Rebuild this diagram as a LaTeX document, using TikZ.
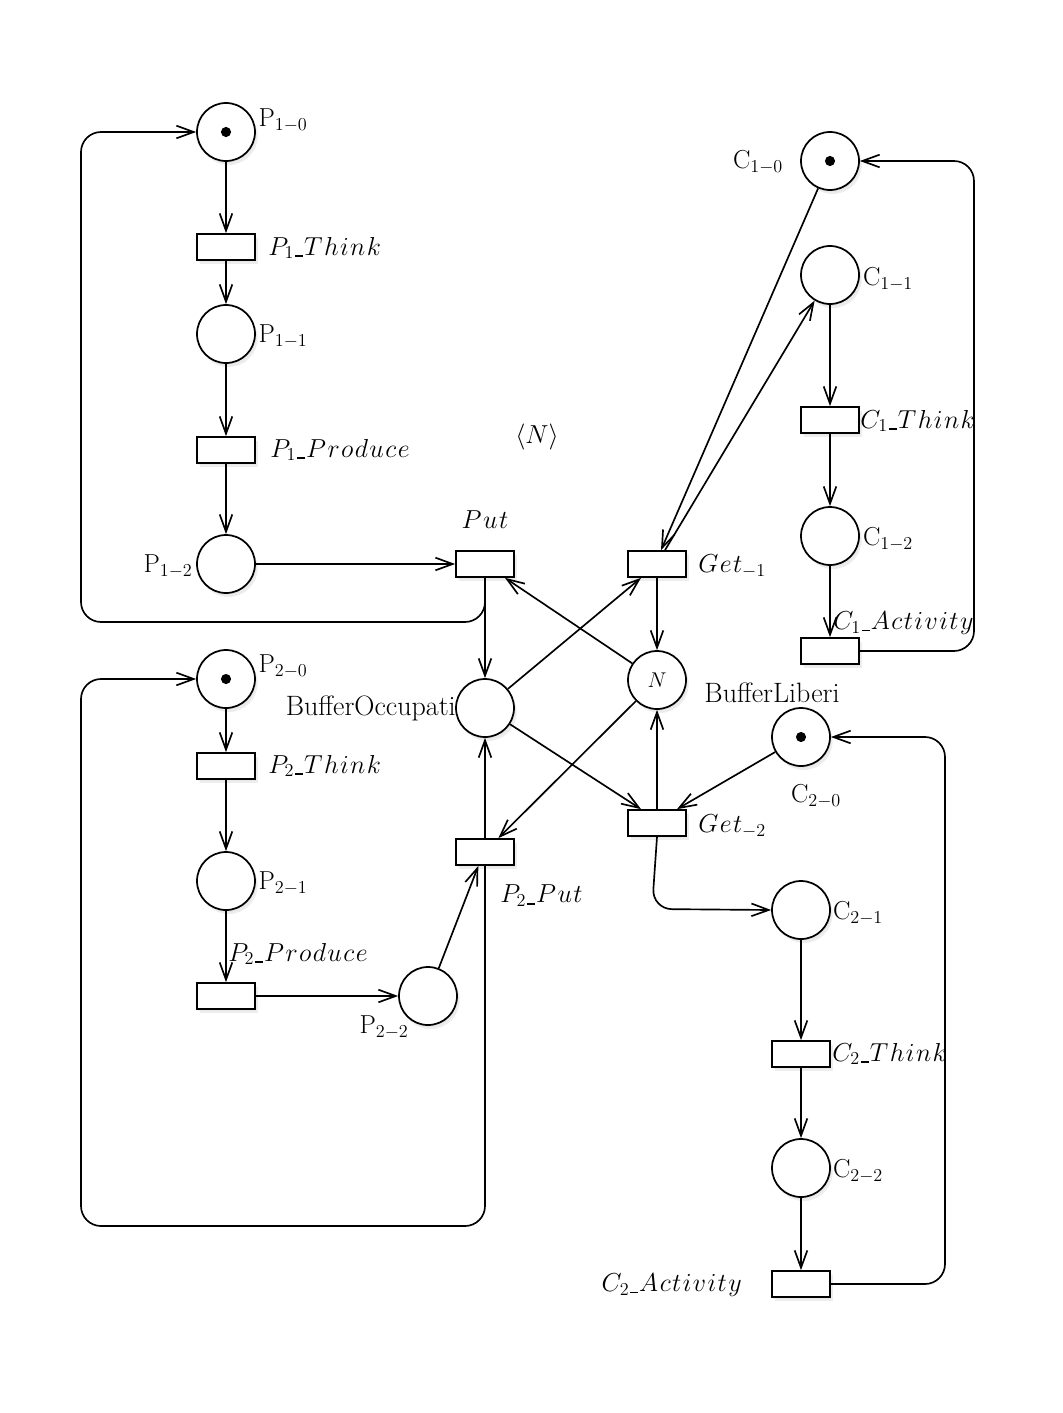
\RequirePackage{fix-cm}
\documentclass[tikz,border=0pt]{standalone}
\usetikzlibrary{arrows.meta,shadows}
\newcommand\uscore{\mbox{\kern.03em\vrule width .32em height -0.01em depth .065em\kern.03em}}
\begin{document}
\begin{tikzpicture}[x=0.75pt,y=-0.75pt,
  every node/.style={font=\fontsize{19.5}{23}\selectfont},
  shd/.style={drop shadow={shadow xshift=2pt,shadow yshift=-3pt,fill=black!14},
              drop shadow={shadow xshift=1pt,shadow yshift=-1.5pt,fill=black!10}},
  place/.style={circle,draw,fill=white,line width=1.3pt,minimum size=43.5pt,inner sep=0pt,shd},
  trans/.style={rectangle,draw,fill=white,line width=1.3pt,minimum width=43.5pt,minimum height=19.5pt,inner sep=0pt,shd},
  arc/.style={line width=1.25pt,-{Straight Barb[length=13pt,width=9.5pt,line width=1.25pt]}},
  lbl/.style={inner sep=0pt},
  biglbl/.style={inner sep=0pt,font=\fontsize{21}{25}\selectfont},
  loop/.style={arc,rounded corners=15pt}]
\useasboundingbox (0,0) rectangle (1063,1413);
% places
\node[place] (P10) at (226,132) {};
\node[place] (P11) at (226,334) {};
\node[place] (P12) at (226,564) {};
\node[place] (P20) at (226,679) {};
\node[place] (P21) at (226,881) {};
\node[place] (P22) at (428,996) {};
\node[place] (BO) at (485,708) {};
\node[place] (BL) at (657,680) {\fontsize{16}{18}\selectfont$N$};
\node[place] (C10) at (830,161) {};
\node[place] (C11) at (830,275) {};
\node[place] (C12) at (830,536) {};
\node[place] (C20) at (801,737) {};
\node[place] (C21) at (801,910) {};
\node[place] (C22) at (801,1168) {};
% tokens
\foreach \p in {P10,P20,C10,C20} \fill (\p.center) circle[radius=3.8pt];
% transitions
\node[trans] (P1T) at (226,247) {};
\node[trans] (P1P) at (226,450) {};
\node[trans] (Put) at (485,564) {};
\node[trans] (Get1) at (657,564) {};
\node[trans] (P2T) at (226,766) {};
\node[trans] (P2P) at (226,996) {};
\node[trans] (P2Put) at (485,852) {};
\node[trans] (Get2) at (657,823) {};
\node[trans] (C1T) at (830,420) {};
\node[trans] (C1A) at (830,651) {};
\node[trans] (C2T) at (801,1054) {};
\node[trans] (C2A) at (801,1284) {};
% labels
\node[lbl] (lP10) at (283,120) {P$_{1-0}$};
\node[lbl] (lP11) at (283,336) {P$_{1-1}$};
\node[lbl] (lP12) at (168,566) {P$_{1-2}$};
\node[lbl] (lP20) at (283,666) {P$_{2-0}$};
\node[lbl] (lP21) at (283,883) {P$_{2-1}$};
\node[lbl] (lP22) at (384,1027) {P$_{2-2}$};
\node[lbl] (lC10) at (758,162) {C$_{1-0}$};
\node[lbl] (lC11) at (888,279) {C$_{1-1}$};
\node[lbl] (lC12) at (888,539) {C$_{1-2}$};
\node[lbl] (lC20) at (816,796) {C$_{2-0}$};
\node[lbl] (lC21) at (858,913) {C$_{2-1}$};
\node[lbl] (lC22) at (858,1171) {C$_{2-2}$};
\node[biglbl,anchor=east] (lBO) at (456,708) {BufferOccupati};
\node[biglbl] (lBL) at (772,693) {BufferLiberi};
\node[lbl] (lN) at (537,437) {$\langle N\rangle$};
\node[lbl,anchor=west] (lP1T) at (268,248) {$P_1\uscore T\mkern1mu h\mkern1mu i\mkern1mu n\mkern1mu k$};
\node[lbl,anchor=west] (lP1P) at (270,450) {$P_1\uscore P\mkern1mu r\mkern1mu o\mkern1mu d\mkern1mu u\mkern1mu c\mkern1mu e$};
\node[lbl] (lPut) at (485,520) {$P\mkern1mu u\mkern1mu t$};
\node[lbl,anchor=west] (lGet1) at (698,566) {$G\mkern1mu e\mkern1mu t_{-1}$};
\node[lbl,anchor=west] (lP2T) at (268,766) {$P_2\uscore T\mkern1mu h\mkern1mu i\mkern1mu n\mkern1mu k$};
\node[lbl,anchor=west] (lP2P) at (228,954) {$P_2\uscore P\mkern1mu r\mkern1mu o\mkern1mu d\mkern1mu u\mkern1mu c\mkern1mu e$};
\node[lbl,anchor=west] (lP2Put) at (500,896) {$P_2\uscore P\mkern1mu u\mkern1mu t$};
\node[lbl,anchor=west] (lGet2) at (698,826) {$G\mkern1mu e\mkern1mu t_{-2}$};
\node[lbl,anchor=west] (lC1T) at (860,421) {$C_1\uscore T\mkern1mu h\mkern1mu i\mkern1mu n\mkern1mu k$};
\node[lbl,anchor=west] (lC1A) at (833,623) {$C_1\uscore A\mkern1mu c\mkern1mu t\mkern1mu i\mkern1mu v\mkern1mu i\mkern1mu t\mkern1mu y$};
\node[lbl,anchor=west] (lC2T) at (832,1054) {$C_2\uscore T\mkern1mu h\mkern1mu i\mkern1mu n\mkern1mu k$};
\node[lbl,anchor=east] (lC2A) at (742,1285) {$C_2\uscore A\mkern1mu c\mkern1mu t\mkern1mu i\mkern1mu v\mkern1mu i\mkern1mu t\mkern1mu y$};
% arcs producer 1
\draw[arc] (P10) -- (P1T);
\draw[arc] (P1T) -- (P11);
\draw[arc] (P11) -- (P1P);
\draw[arc] (P1P) -- (P12);
\draw[arc] (P12) -- (Put);
\draw[loop] (Put.south) -- (485,622) -- (81,622) -- (81,132) -- (P10.west);
\draw[arc] (Put) -- (BO);
% producer 2
\draw[arc] (P20) -- (P2T);
\draw[arc] (P2T) -- (P21);
\draw[arc] (P21) -- (P2P);
\draw[arc] (P2P) -- (P22);
\draw[arc] (P22) -- ([xshift=-5pt]P2Put.south);
\draw[arc] (P2Put) -- (BO);
\draw[loop] (P2Put.south) -- (485,1226) -- (81,1226) -- (81,679) -- (P20.west);
% buffer
\draw[arc] (BO) -- ([xshift=-12pt]Get1.south);
\draw[arc] (BO) -- ([xshift=-12pt]Get2.north);
\draw[arc] (BL) -- ([xshift=15pt]Put.south);
\draw[arc] (BL) -- ([xshift=10pt]P2Put.north);
\draw[arc] (Get1) -- (BL);
\draw[arc] (Get2) -- (BL);
% consumer 1
\draw[arc] (C10) -- ([xshift=3pt]Get1.north);
\draw[arc] ([xshift=6pt]Get1.north) -- (C11);
\draw[arc] (C11) -- (C1T);
\draw[arc] (C1T) -- (C12);
\draw[arc] (C12) -- (C1A);
\draw[loop] (C1A.east) -- (974,651) -- (974,161) -- (C10.east);
% consumer 2
\draw[arc] (C20) -- ([xshift=15pt]Get2.north);
\draw[loop] (Get2.south) -- (652,909) -- (C21.west);
\draw[arc] (C21) -- (C2T);
\draw[arc] (C2T) -- (C22);
\draw[arc] (C22) -- (C2A);
\draw[loop] (C2A.east) -- (945,1284) -- (945,737) -- (C20.east);
\end{tikzpicture}
\end{document}
